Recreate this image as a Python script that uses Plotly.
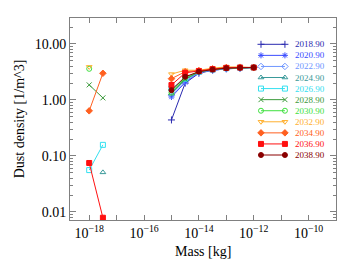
import numpy as np
import plotly.graph_objects as go

# ---- data ----
years = ["2018.90", "2020.90", "2022.90", "2024.90", "2026.90", "2028.90",
         "2030.90", "2032.90", "2034.90", "2036.90", "2038.90"]
colors = ["#2a2ab0", "#3a4cff", "#6f96ff", "#3a9a9a", "#33e0f0", "#3c9a3c",
          "#3ee03e", "#ffb030", "#ff6020", "#ff1010", "#8a0000"]
symbols = ["cross-thin-open", "asterisk-open", "diamond-open", "triangle-up-open",
           "square-open", "x-thin-open", "circle-open", "triangle-down-open",
           "diamond", "square", "circle"]

mass_small = [1e-18, 3.16e-18]
mass_large = [1e-15, 3.16e-15, 1e-14, 3.16e-14, 1e-13, 3.16e-13, 1e-12]

# small-mass values (None = absent)
dens_small = {
    "2018.90": [None, None],
    "2020.90": [None, None],
    "2022.90": [None, None],
    "2024.90": [None, 0.051],
    "2026.90": [0.056, 0.158],
    "2028.90": [1.86, 1.09],
    "2030.90": [3.6, None],
    "2032.90": [3.9, None],
    "2034.90": [0.64, 3.0],
    "2036.90": [0.075, 0.0079],
    "2038.90": [None, None],
}
dens_large = {
    "2018.90": [0.44, 2.0, 3.0, 3.4, 3.6, 3.7, 3.8],
    "2020.90": [1.13, 2.05, 3.1, 3.4, 3.6, 3.7, 3.85],
    "2022.90": [1.22, 2.15, 3.1, 3.4, 3.6, 3.7, 3.8],
    "2024.90": [1.3, 2.3, 3.15, 3.45, 3.65, 3.75, 3.8],
    "2026.90": [1.6, 2.4, 3.2, 3.5, 3.7, 3.8, 3.8],
    "2028.90": [1.4, 2.35, 3.2, 3.5, 3.7, 3.8, 3.8],
    "2030.90": [1.35, 2.5, 3.25, 3.55, 3.75, 3.8, 3.8],
    "2032.90": [2.9, 3.4, 3.4, 3.7, 3.9, 3.9, 3.8],
    "2034.90": [2.4, 3.2, 3.35, 3.6, 3.8, 3.85, 3.8],
    "2036.90": [1.85, 3.05, 3.3, 3.55, 3.75, 3.8, 3.8],
    "2038.90": [1.5, 2.6, 3.2, 3.5, 3.7, 3.75, 3.8],
}

x_label_exp = [-18, -16, -14, -12, -10]
x_minor_exp = [-17, -15, -13, -11, -9]
y_tick_vals = [0.01, 0.1, 1.0, 10.0]
y_tick_text = ["0.01", "0.10", "1.00", "10.00"]

FONT = "Liberation Serif"
AX = "#808080"
XR = [-18.7, -9.0]
YR = [-2.143, 1.464]


def px(fr):
    return 10 ** (XR[0] + (XR[1] - XR[0]) * fr)


def py(fr):
    return 10 ** (YR[0] + (YR[1] - YR[0]) * fr)


fig = go.Figure()

for yr, c, s in zip(years, colors, symbols):
    xs = mass_small + [None] + mass_large
    ys = dens_small[yr] + [None] + dens_large[yr]
    fig.add_trace(go.Scatter(
        x=xs, y=ys, mode="lines+markers", connectgaps=False,
        line=dict(color=c, width=1),
        marker=dict(symbol=s, size=5, color=c, line=dict(color=c, width=1)),
        showlegend=False, cliponaxis=True))

# manual legend (positions as fractions of the plot area)
x0, x1, xt = 0.718, 0.808, 0.84
for i, (yr, c, s) in enumerate(zip(years, colors, symbols)):
    yp = 44.3 + 11.07 * i
    yf = (220 - yp) / 202
    fig.add_trace(go.Scatter(
        x=[px(x0), px(x1)], y=[py(yf), py(yf)], mode="lines+markers",
        line=dict(color=c, width=1),
        marker=dict(symbol=s, size=5, color=c, line=dict(color=c, width=1)),
        showlegend=False, hoverinfo="skip"))
    fig.add_annotation(x=xt, y=yf, xref="paper", yref="paper", text=yr, showarrow=False,
                       xanchor="left", yanchor="middle",
                       font=dict(family=FONT, size=9, color=c))

# x-axis title as annotation below the tick labels
fig.add_annotation(x=0.5, y=-(252 - 220) / 202, xref="paper", yref="paper",
                   text="Mass [kg]", showarrow=False, xanchor="center", yanchor="middle",
                   borderpad=0, font=dict(family=FONT, size=14, color="black"))

x_tickvals = [10.0 ** e for e in x_label_exp]
x_ticktext = ["10<sup>\u2212%d</sup>" % (-e) for e in x_label_exp]
x_minor = [10.0 ** e for e in x_minor_exp]

y_minor = []
for d in [-3, -2, -1, 0, 1]:
    for m in range(2, 10):
        y_minor.append(m * 10.0 ** d)

# page body adds an 8px offset: figure spans x 8..349, y 8..262; plot area 70..336 x 18..220
fig.update_layout(
    width=341, height=254,
    margin=dict(l=62, r=13, t=10, b=42),
    plot_bgcolor="white", paper_bgcolor="white",
    font=dict(family=FONT, size=14, color="black"),
    xaxis=dict(type="log", range=XR, tickvals=x_tickvals, ticktext=x_ticktext,
               ticks="inside", ticklen=5, tickcolor=AX, showline=True, linecolor=AX,
               mirror="allticks", showgrid=False, zeroline=False, automargin=False,
               minor=dict(tickvals=x_minor, ticks="inside", ticklen=5, tickcolor=AX,
                          showgrid=False),
               tickfont=dict(family=FONT, size=14)),
    yaxis=dict(type="log", range=YR, tickvals=y_tick_vals, ticktext=y_tick_text,
               ticks="inside", ticklen=6, tickcolor=AX, showline=True, linecolor=AX,
               mirror="allticks", showgrid=False, zeroline=False, automargin=False,
               minor=dict(tickvals=y_minor, ticks="inside", ticklen=3, tickcolor=AX,
                          showgrid=False),
               title=dict(text="Dust density [1/m^3]", font=dict(family=FONT, size=14), standoff=6),
               tickfont=dict(family=FONT, size=14)),
)

fig.write_html("out.html")
